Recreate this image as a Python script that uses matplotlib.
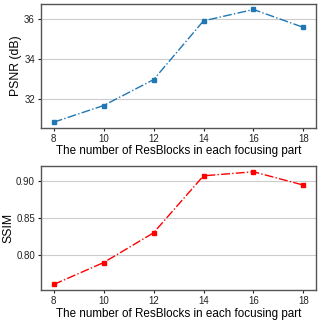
import matplotlib
matplotlib.use("Agg")
import matplotlib.pyplot as plt

# data
blocks = [8, 10, 12, 14, 16, 18]
psnr = [30.83, 31.67, 32.97, 35.93, 36.50, 35.60]
ssim = [0.7605, 0.790, 0.830, 0.9067, 0.9121, 0.8942]

plt.rcParams['font.family'] = ['Liberation Sans', 'DejaVu Sans']

fig = plt.figure(figsize=(3.22, 3.22), dpi=100)
ax1 = fig.add_axes([0.128, 0.603, 0.853, 0.385])
ax2 = fig.add_axes([0.128, 0.099, 0.853, 0.385])

ax1.plot(blocks, psnr, linestyle='-.', marker='s', markersize=3.5, color='#1f77b4', linewidth=1)
ax1.set_ylabel("PSNR (dB)", fontsize=8.8, labelpad=1.5)
ax1.set_yticks([32, 34, 36])

ax2.plot(blocks, ssim, linestyle='-.', marker='s', markersize=3.5, color='red', linewidth=1)
ax2.set_ylabel("SSIM", fontsize=8.8, labelpad=1.5)
ax2.set_yticks([0.80, 0.85, 0.90])
ax2.set_yticklabels(["0.80", "0.85", "0.90"])

for ax in (ax1, ax2):
    ax.set_xticks(blocks)
    ax.set_xlabel("The number of ResBlocks in each focusing part", fontsize=8.4, labelpad=1)
    ax.grid(axis='y', color='#cccccc', linewidth=0.8)
    ax.set_axisbelow(True)
    ax.tick_params(length=2.5, width=0.8, pad=2, labelsize=7, colors='#222222')
    for s in ax.spines.values():
        s.set_color('#555555')
        s.set_linewidth(1)

fig.savefig("out.png", dpi=100)
